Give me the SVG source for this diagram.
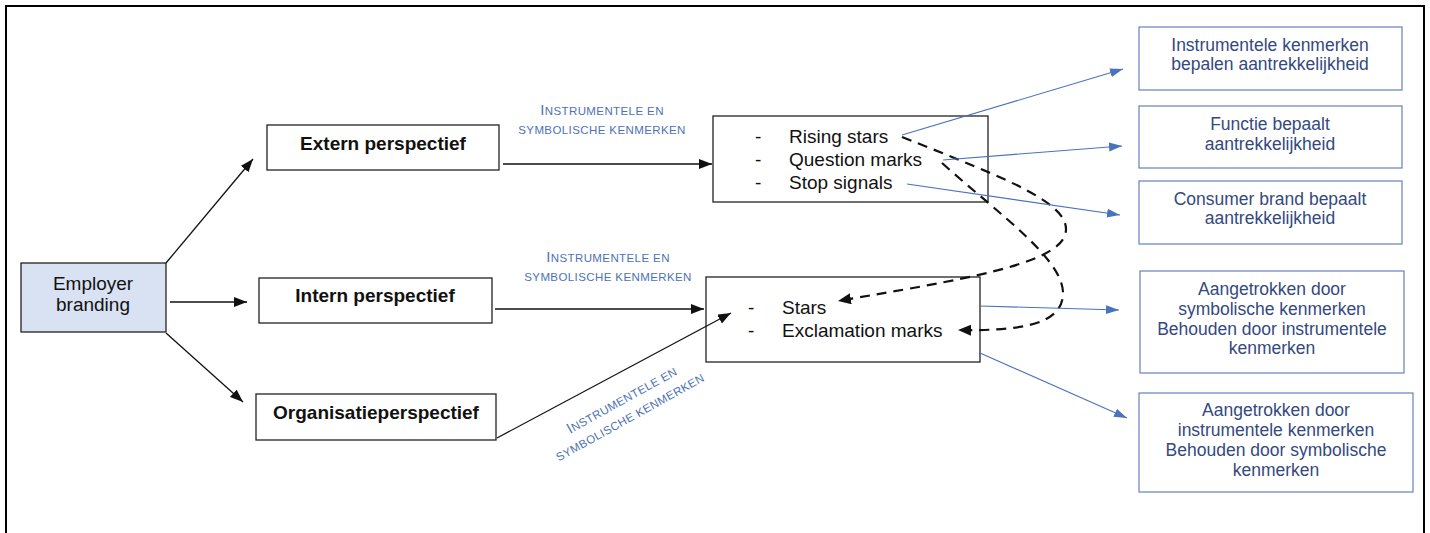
<svg xmlns="http://www.w3.org/2000/svg" width="1430" height="533" viewBox="0 0 1430 533">
<style>
.frame{fill:none;stroke:#000;stroke-width:2}
.box{fill:#fff;stroke:#222;stroke-width:1.3}
.emp{fill:#d9e2f3;stroke:#222;stroke-width:1.3}
.rbox{fill:#fff;stroke:#6582b9;stroke-width:1.2}
.t{font-family:"Liberation Sans",Arial,sans-serif;font-size:19px;fill:#111}
.b{font-weight:bold;text-anchor:middle}
.m{text-anchor:middle}
.r{font-family:"Liberation Sans",Arial,sans-serif;font-size:17.5px;fill:#34497f;text-anchor:middle}
.lab{font-family:"Liberation Sans",Arial,sans-serif;font-size:11.5px;letter-spacing:0.4px;fill:#4d72b5;text-anchor:middle}
.big{font-size:15px}
.ln{fill:none;stroke:#111;stroke-width:1.3}
.bl{fill:none;stroke:#4a72bd;stroke-width:1.1}
.dash{fill:none;stroke:#111;stroke-width:2.2;stroke-dasharray:10 7}
</style>
<defs>
<marker id="ah" markerUnits="userSpaceOnUse" markerWidth="14" markerHeight="12" refX="13" refY="5" orient="auto"><path d="M0,0 L13,5 L0,10 Z" fill="#111"/></marker>
<marker id="ahb" markerUnits="userSpaceOnUse" markerWidth="14" markerHeight="12" refX="13" refY="5" orient="auto"><path d="M0,0.5 L13,5 L0,9.5 Z" fill="#4a72bd"/></marker>
<marker id="ahd" markerUnits="userSpaceOnUse" markerWidth="15" markerHeight="12" refX="13" refY="5.5" orient="auto"><path d="M0,0 L13,5.5 L0,11 Z" fill="#111"/></marker>
</defs>
<rect class="frame" x="6" y="6" width="1418" height="540"/>

<g id="employer">
<rect class="emp" x="21" y="263" width="145" height="69"/>
<text class="t m" x="93" y="290">Employer</text>
<text class="t m" x="93" y="311">branding</text>
</g>
<g id="extern">
<rect class="box" x="267" y="125" width="232" height="45"/>
<text class="t b" x="383" y="150">Extern perspectief</text>
</g>
<g id="intern">
<rect class="box" x="259" y="278" width="233" height="45"/>
<text class="t b" x="375" y="302">Intern perspectief</text>
</g>
<g id="organisatie">
<rect class="box" x="256" y="394" width="240" height="46"/>
<text class="t b" x="376" y="419">Organisatieperspectief</text>
</g>
<g id="groep1">
<rect class="box" x="713" y="116" width="275" height="86"/>
<text class="t" x="755" y="143">-</text><text class="t" x="789" y="143">Rising stars</text>
<text class="t" x="755" y="166">-</text><text class="t" x="789" y="166">Question marks</text>
<text class="t" x="755" y="189">-</text><text class="t" x="789" y="189">Stop signals</text>
</g>
<g id="groep2">
<rect class="box" x="706" y="277" width="274" height="85"/>
<text class="t" x="748" y="314">-</text><text class="t" x="782" y="314">Stars</text>
<text class="t" x="748" y="337">-</text><text class="t" x="782" y="337">Exclamation marks</text>
</g>
<g id="r1">
<rect class="rbox" x="1139" y="27" width="263" height="63"/>
<text class="r" x="1270" y="51">Instrumentele kenmerken</text>
<text class="r" x="1270" y="70">bepalen aantrekkelijkheid</text>
</g>
<g id="r2">
<rect class="rbox" x="1139" y="106" width="263" height="62"/>
<text class="r" x="1270" y="130">Functie bepaalt</text>
<text class="r" x="1270" y="150">aantrekkelijkheid</text>
</g>
<g id="r3">
<rect class="rbox" x="1139" y="181" width="263" height="63"/>
<text class="r" x="1270" y="205">Consumer brand bepaalt</text>
<text class="r" x="1270" y="224">aantrekkelijkheid</text>
</g>
<g id="r4">
<rect class="rbox" x="1140" y="271" width="264" height="102"/>
<text class="r" x="1272" y="295">Aangetrokken door</text>
<text class="r" x="1272" y="315">symbolische kenmerken</text>
<text class="r" x="1272" y="335">Behouden door instrumentele</text>
<text class="r" x="1272" y="354">kenmerken</text>
</g>
<g id="r5">
<rect class="rbox" x="1139" y="393" width="274" height="99"/>
<text class="r" x="1276" y="416">Aangetrokken door</text>
<text class="r" x="1276" y="436">instrumentele kenmerken</text>
<text class="r" x="1276" y="456">Behouden door symbolische</text>
<text class="r" x="1276" y="476">kenmerken</text>
</g>

<g id="connectors">
<line class="ln" x1="166" y1="263" x2="253" y2="159" marker-end="url(#ah)"/>
<line class="ln" x1="170" y1="302" x2="247" y2="302" marker-end="url(#ah)"/>
<line class="ln" x1="166" y1="333" x2="243" y2="402" marker-end="url(#ah)"/>
<line class="ln" x1="503" y1="164" x2="712" y2="164" marker-end="url(#ah)"/>
<line class="ln" x1="495" y1="309" x2="704" y2="309" marker-end="url(#ah)"/>
<line class="ln" x1="497" y1="438" x2="731" y2="313" marker-end="url(#ah)"/>
<path class="dash" d="M902,137 C1010,180 1075,205 1065,235 C1055,265 960,280 838,301" marker-end="url(#ahd)"/>
<path class="dash" d="M942,163 C1000,215 1065,260 1063,295 C1061,325 1020,331 958,330" marker-end="url(#ahd)"/>
<line class="bl" x1="902" y1="135" x2="1123" y2="69" marker-end="url(#ahb)"/>
<line class="bl" x1="943" y1="160" x2="1122" y2="146" marker-end="url(#ahb)"/>
<line class="bl" x1="907" y1="184" x2="1120" y2="215" marker-end="url(#ahb)"/>
<line class="bl" x1="980" y1="306" x2="1119" y2="310" marker-end="url(#ahb)"/>
<line class="bl" x1="980" y1="353" x2="1127" y2="418" marker-end="url(#ahb)"/>
<text class="lab" x="602" y="115"><tspan class="big">I</tspan>NSTRUMENTELE EN</text>
<text class="lab" x="602" y="134">SYMBOLISCHE KENMERKEN</text>
<text class="lab" x="608" y="262"><tspan class="big">I</tspan>NSTRUMENTELE EN</text>
<text class="lab" x="608" y="281">SYMBOLISCHE KENMERKEN</text>
<text class="lab" transform="translate(624,404) rotate(-29)"><tspan class="big">I</tspan>NSTRUMENTELE  EN</text>
<text class="lab" transform="translate(632,421) rotate(-29)">SYMBOLISCHE  KENMERKEN</text>
</g>
</svg>
